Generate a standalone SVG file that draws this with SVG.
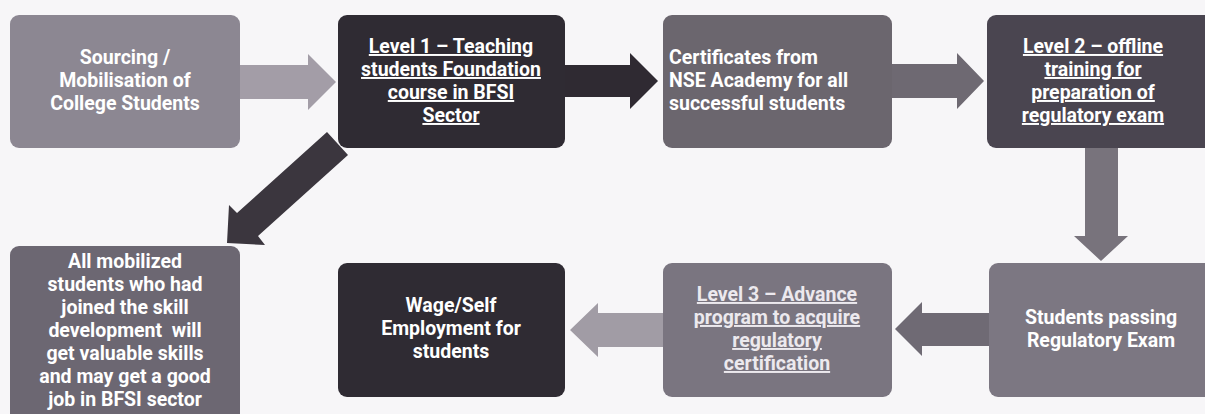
<svg xmlns="http://www.w3.org/2000/svg" width="1205" height="414" viewBox="0 0 1205 414">
<style>
.t{font-family:Roboto,"Liberation Sans",sans-serif;font-weight:bold;font-size:19.5px;fill:#ffffff;text-anchor:middle}
.l{text-anchor:start}
.u{text-decoration:underline}
.lt{fill:#ece9ee}
</style>
<rect width="1205" height="414" fill="#f7f6f8"/>
<g id="connectors">
<polygon points="240,65 308,65 308,54 336,82 308,110 308,99 240,99" fill="#a39da7"/>
<polygon points="565,65 630,65 630,53 658,81 630,109 630,97 565,97" fill="#2f2a32"/>
<polygon points="892,64 957,64 957,53 984,81 957,109 957,98 892,98" fill="#6e6972"/>
<polygon points="1085,147 1118,147 1118,236 1128,236 1101,261 1074,236 1085,236" fill="#78737c"/>
<polygon points="989,313 922,313 922,302 895,329 922,356 922,346 989,346" fill="#6f6a74"/>
<polygon points="663,313 598,313 598,303 570,330 598,357 598,347 663,347" fill="#a19ca5"/>
<polygon points="327,132 348,155 258,236 265,245 227,243 229,205 237,213" fill="#3b363e"/>
</g>
<g id="n1">
<rect x="10" y="15" width="230" height="133" rx="9" fill="#8c8792"/>
<text class="t" x="125" y="64">Sourcing /</text>
<text class="t" x="125" y="87">Mobilisation of</text>
<text class="t" x="125" y="110">College Students</text>
</g>
<g id="n2">
<rect x="338" y="15" width="227" height="133" rx="9" fill="#2f2b33"/>
<text class="t u" x="451" y="53">Level 1 – Teaching</text>
<text class="t u" x="451" y="76">students Foundation</text>
<text class="t u" x="451" y="99">course in BFSI</text>
<text class="t u" x="451" y="122">Sector</text>
</g>
<g id="n3">
<rect x="663" y="15" width="229" height="133" rx="9" fill="#6b666e"/>
<text class="t l" x="669" y="64">Certificates from</text>
<text class="t l" x="669" y="87">NSE Academy for all</text>
<text class="t l" x="669" y="110">successful students</text>
</g>
<g id="n4">
<rect x="987" y="15" width="228" height="133" rx="9" fill="#4a4550"/>
<text class="t u" x="1093" y="53">Level 2 – offline</text>
<text class="t u" x="1093" y="76">training for</text>
<text class="t u" x="1093" y="99">preparation of</text>
<text class="t u" x="1093" y="122">regulatory exam</text>
</g>
<g id="n5">
<rect x="989" y="263" width="226" height="134" rx="9" fill="#7c7782"/>
<text class="t" x="1101" y="324">Students passing</text>
<text class="t" x="1101" y="347">Regulatory Exam</text>
</g>
<g id="n6">
<rect x="663" y="263" width="229" height="134" rx="9" fill="#7a7580"/>
<text class="t u lt" x="777" y="301">Level 3 – Advance</text>
<text class="t u lt" x="777" y="324">program to acquire</text>
<text class="t u lt" x="777" y="347">regulatory</text>
<text class="t u lt" x="777" y="370">certification</text>
</g>
<g id="n7">
<rect x="338" y="263" width="227" height="134" rx="9" fill="#2f2b33"/>
<text class="t" x="451" y="312">Wage/Self</text>
<text class="t" x="451" y="335">Employment for</text>
<text class="t" x="451" y="358">students</text>
</g>
<g id="n8">
<rect x="10" y="246" width="230" height="190" rx="9" fill="#6c6772"/>
<text class="t" x="125" y="268">All mobilized</text>
<text class="t" x="125" y="291">students who had</text>
<text class="t" x="125" y="314">joined the skill</text>
<text class="t" x="125" y="337">development&#160; will</text>
<text class="t" x="125" y="360">get valuable skills</text>
<text class="t" x="125" y="383">and may get a good</text>
<text class="t" x="125" y="406">job in BFSI sector</text>
</g>
</svg>
